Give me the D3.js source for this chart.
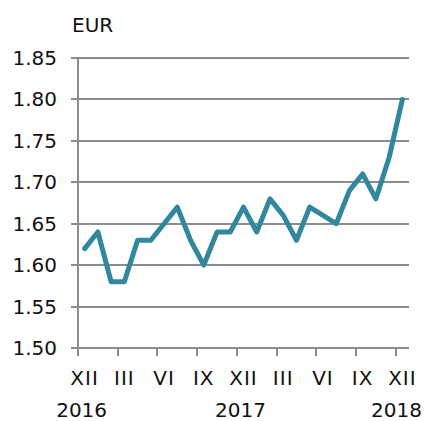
<!DOCTYPE html>
<html>
<head>
  <script src="https://d3js.org/d3.v7.min.js"></script>
  <style>
    body { margin: 0; background: #fff; }
    text { font-family: "DejaVu Sans", Verdana, sans-serif; fill: #111; font-size: 20px; }
    .grid line { stroke: #8c8c8c; stroke-width: 2; }
    .line { fill: none; stroke: #31879b; stroke-width: 5; stroke-linejoin: round; stroke-linecap: round; }
  </style>
</head>
<body>
  <div id="chart"></div>
  <script>
    var months = ["2016-12","2017-01","2017-02","2017-03","2017-04","2017-05","2017-06","2017-07","2017-08","2017-09","2017-10","2017-11","2017-12",
                  "2018-01","2018-02","2018-03","2018-04","2018-05","2018-06","2018-07","2018-08","2018-09","2018-10","2018-11","2018-12"];
    var values = [1.62, 1.64, 1.58, 1.58, 1.63, 1.63, 1.65, 1.67, 1.63, 1.60, 1.64, 1.64, 1.67,
                  1.64, 1.68, 1.66, 1.63, 1.67, 1.66, 1.65, 1.69, 1.71, 1.68, 1.73, 1.80];
    var monthNames = ["I","II","III","IV","V","VI","VII","VIII","IX","X","XI","XII"];
    var yTicks = [1.50, 1.55, 1.60, 1.65, 1.70, 1.75, 1.80, 1.85];
    var years = ["2016", "2017", "2018"];
    var yearMonths = ["2016-12", "2017-12", "2018-12"];
    var unit = "EUR";

    var w = 424, h = 421;
    var padLeft = 78, padRight = 409, padTop = 58, padBottom = 348;

    var svg = d3.select("#chart").append("svg")
      .attr("width", w)
      .attr("height", h);

    var x = d3.scaleBand().domain(months).range([padLeft, padRight]).padding(0);
    var y = d3.scaleLinear().domain([1.50, 1.85]).range([padBottom, padTop]);

    // gridlines + y labels
    var grid = svg.append("g").attr("class", "grid");
    grid.selectAll("line").data(yTicks).enter().append("line")
      .attr("x1", padLeft - 7)
      .attr("x2", padRight)
      .attr("y1", d => Math.round(y(d)))
      .attr("y2", d => Math.round(y(d)));

    svg.selectAll(".ylab").data(yTicks).enter().append("text")
      .attr("class", "ylab")
      .attr("x", 57)
      .attr("y", d => y(d) + 7)
      .attr("text-anchor", "end")
      .text(d => d.toFixed(2));

    // axes
    svg.append("line")
      .attr("x1", padLeft).attr("x2", padLeft)
      .attr("y1", padTop).attr("y2", padBottom)
      .attr("stroke", "#8c8c8c").attr("stroke-width", 2);

    var tickMonths = months.filter((m, i) => i % 3 == 0);
    svg.selectAll(".xtick").data(tickMonths).enter().append("line")
      .attr("class", "xtick")
      .attr("x1", d => Math.round(x(d)))
      .attr("x2", d => Math.round(x(d)))
      .attr("y1", padBottom)
      .attr("y2", padBottom + 8)
      .attr("stroke", "#8c8c8c").attr("stroke-width", 2);

    svg.selectAll(".xlab").data(tickMonths).enter().append("text")
      .attr("class", "xlab")
      .attr("x", d => x(d) + x.bandwidth() / 2)
      .attr("y", 385)
      .attr("text-anchor", "middle")
      .style("letter-spacing", "1px")
      .text(d => monthNames[+d.split("-")[1] - 1]);

    svg.selectAll(".year").data(years).enter().append("text")
      .attr("class", "year")
      .attr("x", (d, i) => i == years.length - 1 ? 422 : x(yearMonths[i]) + x.bandwidth() / 2 - 3)
      .attr("y", 417)
      .attr("text-anchor", (d, i) => i == years.length - 1 ? "end" : "middle")
      .text(d => d);

    svg.append("text")
      .attr("x", 72)
      .attr("y", 32)
      .text(unit);

    // data line
    var line = d3.line()
      .x((d, i) => x(months[i]) + x.bandwidth() / 2)
      .y(d => y(d));

    svg.append("path")
      .datum(values)
      .attr("class", "line")
      .attr("d", line);
  </script>
</body>
</html>
